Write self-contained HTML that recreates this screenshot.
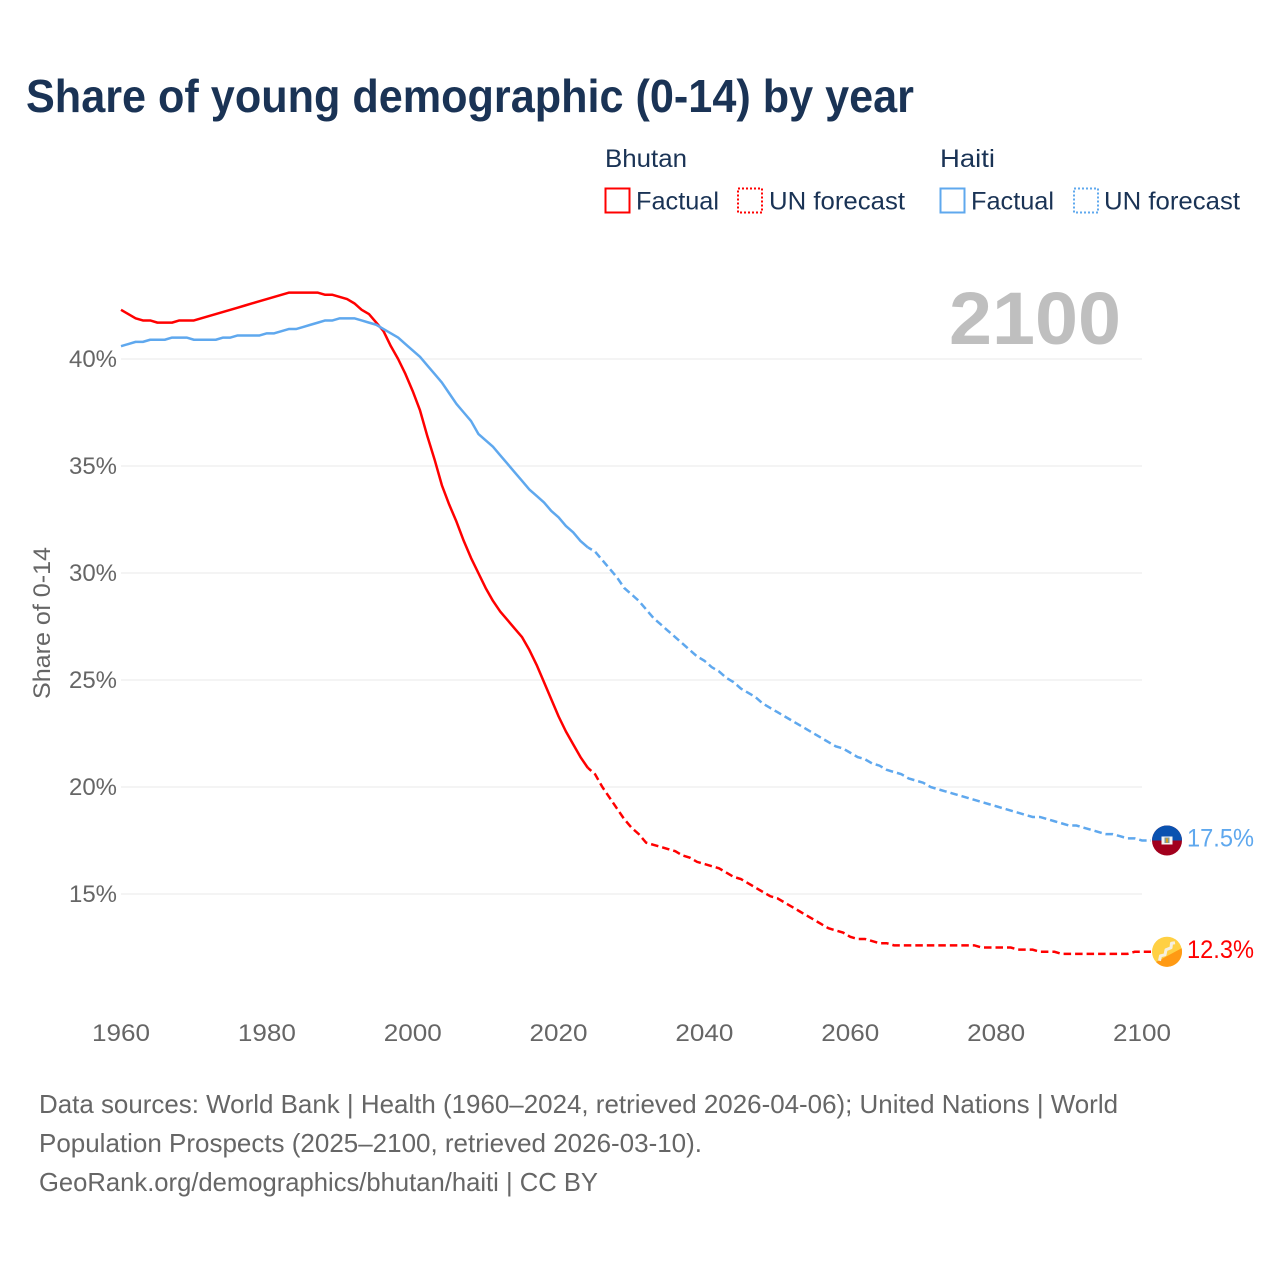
<!DOCTYPE html>
<html lang="en">
<head>
<meta charset="utf-8">
<title>Share of young demographic (0-14) by year</title>
<style>
html,body{margin:0;padding:0;background:#fff;width:1280px;height:1280px;overflow:hidden}
svg{display:block}
text{font-family:"Liberation Sans",sans-serif}
</style>
</head>
<body>
<svg id="chart" xmlns="http://www.w3.org/2000/svg" width="1280" height="1280" viewBox="0 0 1280 1280">
  <text x="26" y="112" font-size="46" font-weight="700" fill="#1a3355" textLength="888" lengthAdjust="spacingAndGlyphs">Share of young demographic (0-14) by year</text>

  <g>
    <text x="605" y="167" font-size="25" fill="#1a3355" textLength="82" lengthAdjust="spacingAndGlyphs">Bhutan</text>
    <text x="940" y="167" font-size="25" fill="#1a3355" textLength="55" lengthAdjust="spacingAndGlyphs">Haiti</text>
    <rect x="605.5" y="188.5" width="24" height="24" fill="none" stroke="#ff0000" stroke-width="2"/>
    <text x="636" y="209.5" font-size="25" fill="#1a3355" textLength="83" lengthAdjust="spacingAndGlyphs">Factual</text>
    <rect x="738" y="188.5" width="24" height="24" fill="none" stroke="#ff0000" stroke-width="2" stroke-dasharray="2 2"/>
    <text x="769" y="209.5" font-size="25" fill="#1a3355" textLength="136" lengthAdjust="spacingAndGlyphs">UN forecast</text>
    <rect x="940.5" y="188.5" width="24" height="24" fill="none" stroke="#5fa8ee" stroke-width="2"/>
    <text x="971" y="209.5" font-size="25" fill="#1a3355" textLength="83" lengthAdjust="spacingAndGlyphs">Factual</text>
    <rect x="1074" y="188.5" width="24" height="24" fill="none" stroke="#5fa8ee" stroke-width="2" stroke-dasharray="2 2"/>
    <text x="1104" y="209.5" font-size="25" fill="#1a3355" textLength="136" lengthAdjust="spacingAndGlyphs">UN forecast</text>
  </g>

  <g id="grid"></g>
  <text x="949" y="344" font-size="74" font-weight="700" fill="#bfbfbf" textLength="172" lengthAdjust="spacingAndGlyphs">2100</text>
  <g id="y-axis"></g>
  <g id="x-axis"></g>
  <text transform="translate(50 699) rotate(-90)" font-size="24" fill="#666666" textLength="152" lengthAdjust="spacingAndGlyphs">Share of 0-14</text>
  <g id="series"></g>
  <g id="end-markers"></g>

  <g font-size="26" fill="#666666">
    <text x="39" y="1113" textLength="1079" lengthAdjust="spacingAndGlyphs">Data sources: World Bank | Health (1960–2024, retrieved 2026-04-06); United Nations | World</text>
    <text x="39" y="1152" textLength="663" lengthAdjust="spacingAndGlyphs">Population Prospects (2025–2100, retrieved 2026-03-10).</text>
    <text x="39" y="1191" textLength="559" lengthAdjust="spacingAndGlyphs">GeoRank.org/demographics/bhutan/haiti | CC BY</text>
  </g>
</svg>
<script>
const factualStartYear = 1960;
const forecastStartYear = 2025;
const xTickYears = [1960, 1980, 2000, 2020, 2040, 2060, 2080, 2100];
const yTickValues = [40, 35, 30, 25, 20, 15];
const bhutanFactual = [
  42.3,42.1,41.9,41.8,41.8,41.7,41.7,41.7,41.8,41.8,
  41.8,41.9,42.0,42.1,42.2,42.3,42.4,42.5,42.6,42.7,
  42.8,42.9,43.0,43.1,43.1,43.1,43.1,43.1,43.0,43.0,
  42.9,42.8,42.6,42.3,42.1,41.7,41.3,40.6,40.0,39.3,
  38.5,37.6,36.4,35.3,34.1,33.2,32.4,31.5,30.7,30.0,
  29.3,28.7,28.2,27.8,27.4,27.0,26.4,25.7,24.9,24.1,
  23.3,22.6,22.0,21.4,20.9
];
const bhutanForecast = [
  20.6,20.0,19.5,19.0,18.5,
  18.1,17.8,17.4,17.3,17.2,17.1,17.0,16.8,16.7,16.5,
  16.4,16.3,16.2,16.0,15.8,15.7,15.5,15.3,15.1,14.9,
  14.8,14.6,14.4,14.2,14.0,13.8,13.6,13.4,13.3,13.2,
  13.0,12.9,12.9,12.8,12.7,12.7,12.6,12.6,12.6,12.6,
  12.6,12.6,12.6,12.6,12.6,12.6,12.6,12.6,12.5,12.5,
  12.5,12.5,12.5,12.4,12.4,12.4,12.3,12.3,12.3,12.2,
  12.2,12.2,12.2,12.2,12.2,12.2,12.2,12.2,12.2,12.3,
  12.3
];
const haitiFactual = [
  40.6,40.7,40.8,40.8,40.9,40.9,40.9,41.0,41.0,41.0,
  40.9,40.9,40.9,40.9,41.0,41.0,41.1,41.1,41.1,41.1,
  41.2,41.2,41.3,41.4,41.4,41.5,41.6,41.7,41.8,41.8,
  41.9,41.9,41.9,41.8,41.7,41.6,41.4,41.2,41.0,40.7,
  40.4,40.1,39.7,39.3,38.9,38.4,37.9,37.5,37.1,36.5,
  36.2,35.9,35.5,35.1,34.7,34.3,33.9,33.6,33.3,32.9,
  32.6,32.2,31.9,31.5,31.2
];
const haitiForecast = [
  31.0,30.6,30.2,29.8,29.3,
  29.0,28.7,28.3,27.9,27.6,27.3,27.0,26.7,26.4,26.1,
  25.9,25.6,25.4,25.1,24.9,24.6,24.4,24.2,23.9,23.7,
  23.5,23.3,23.1,22.9,22.7,22.5,22.3,22.1,21.9,21.8,
  21.6,21.4,21.3,21.1,21.0,20.8,20.7,20.6,20.4,20.3,
  20.2,20.0,19.9,19.8,19.7,19.6,19.5,19.4,19.3,19.2,
  19.1,19.0,18.9,18.8,18.7,18.6,18.6,18.5,18.4,18.3,
  18.2,18.2,18.1,18.0,17.9,17.8,17.8,17.7,17.6,17.6,
  17.5
];
const valueLabels = ["17.5%", "12.3%"];

const NS = "http://www.w3.org/2000/svg";
const xScale = y => 121 + (y - 1960) * (1142 - 121) / 140;
const yScale = v => 359 + (40 - v) * (894 - 359) / 25;
const RED = "#ff0000", BLUE = "#5fa8ee";

function mk(tag, parent, attrs, txt) {
  const el = document.createElementNS(NS, tag);
  for (const k in attrs) el.setAttribute(k, attrs[k]);
  if (txt !== undefined) el.textContent = txt;
  parent.appendChild(el);
  return el;
}
function pathFor(values, startYear, extra) {
  let d = values.map((v, i) => (i ? "L" : "M") + xScale(startYear + i).toFixed(2) + " " + yScale(v).toFixed(2)).join("");
  if (extra) d += "L" + (xScale(startYear + values.length - 1) + extra).toFixed(2) + " " + yScale(values[values.length - 1]).toFixed(2);
  return d;
}

const gridG = document.getElementById("grid");
const yAxisG = document.getElementById("y-axis");
yTickValues.forEach(v => {
  const line = mk("line", gridG, {x1: xScale(1960), x2: xScale(2100), y1: yScale(v), y2: yScale(v), stroke: "#e9e9e9", "stroke-width": 1});
  
  
  const t = mk("text", yAxisG, {x: 117, y: yScale(v) + 8, "text-anchor": "end", "font-size": 24, fill: "#666666", textLength: 48, lengthAdjust: "spacingAndGlyphs"}, v + "%");
  
  
});
const xAxisG = document.getElementById("x-axis");
xTickYears.forEach(y => {
  const t = mk("text", xAxisG, {x: xScale(y), y: 1041, "text-anchor": "middle", "font-size": 24, fill: "#666666", textLength: 58, lengthAdjust: "spacingAndGlyphs"}, String(y));
  
  
});

const seriesG = document.getElementById("series");
function drawSeries(name, color, factual, forecast) {
  const a = mk("path", seriesG, {d: pathFor(factual, factualStartYear), fill: "none", stroke: color, "stroke-width": 2.5, "stroke-linejoin": "round"});
  
  
  const joined = [factual[factual.length - 1]].concat(forecast);
  const b = mk("path", seriesG, {d: pathFor(joined, forecastStartYear - 1, 9), fill: "none", stroke: color, "stroke-width": 2.5, "stroke-dasharray": "7.5 4", "stroke-dashoffset": 2.7});
  
  
}
drawSeries("bhutan", RED, bhutanFactual, bhutanForecast);
drawSeries("haiti", BLUE, haitiFactual, haitiForecast);

const markers = document.getElementById("end-markers");
const cx = xScale(2100) + 25;
const hy = yScale(haitiForecast[haitiForecast.length - 1]);
const by = yScale(bhutanForecast[bhutanForecast.length - 1]);

const hFlag = mk("g", markers, {transform: "translate(" + cx + " " + hy + ")"});


mk("circle", hFlag, {r: 15, fill: "#a2001d"});
mk("path", hFlag, {d: "M-15 0A15 15 0 0 1 15 0Z", fill: "#0a52b0"});
mk("rect", hFlag, {x: -5.5, y: -4, width: 11, height: 8, fill: "#f4f4f4"});
mk("rect", hFlag, {x: -2.5, y: -3, width: 5, height: 5.5, fill: "#7f9a9a"});
mk("rect", hFlag, {x: -1, y: -2, width: 2, height: 4, fill: "#d8a020"});

const bFlag = mk("g", markers, {transform: "translate(" + cx + " " + by + ")"});


mk("circle", bFlag, {r: 15, fill: "#ffd043"});
mk("path", bFlag, {d: "M-11 10.2A15 15 0 0 0 14.6 -3.5Z", fill: "#ff9a14"});
mk("path", bFlag, {d: "M-7.5 9L-6.5 4L-2 3L-1 -2L4 -4L4.5 -8.5L8 -9", fill: "none", stroke: "#f5efe0", "stroke-width": 3, "stroke-linejoin": "round"});

const hLabel = mk("text", markers, {x: 1187, y: hy + 6, "font-size": 25, fill: BLUE, textLength: 67, lengthAdjust: "spacingAndGlyphs"}, valueLabels[0]);


const bLabel = mk("text", markers, {x: 1187, y: by + 6, "font-size": 25, fill: RED, textLength: 67, lengthAdjust: "spacingAndGlyphs"}, valueLabels[1]);


</script>
</body>
</html>
